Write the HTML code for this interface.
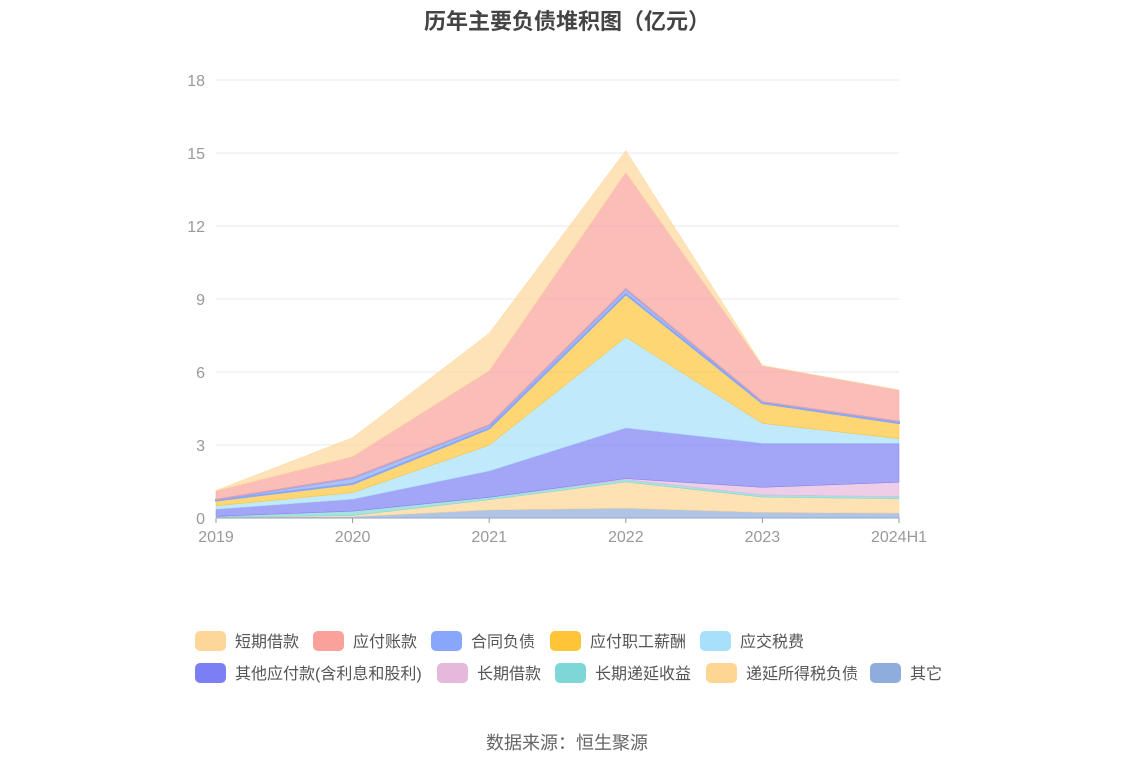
<!DOCTYPE html>
<html><head><meta charset="utf-8"><style>
body{margin:0;width:1134px;height:766px;background:#fff;font-family:"Liberation Sans","Noto Sans CJK SC",sans-serif;position:relative;overflow:hidden}
.t{position:absolute;white-space:nowrap}
.lg{position:absolute;height:22px;font-size:16px;color:#555;line-height:22px;white-space:nowrap}
.lg i{display:inline-block;width:31px;height:20px;border-radius:5px;vertical-align:middle;margin-right:9px;position:relative;top:-2px}
</style></head><body>
<div class="t" style="left:0;width:1134px;text-align:center;top:4px;font-size:22px;font-weight:bold;color:#444">历年主要负债堆积图（亿元）</div>
<svg id="c" width="1134" height="600" style="position:absolute;left:0;top:0"></svg>
<div id="legend"></div>
<div class="t" style="left:0;width:1134px;text-align:center;top:729px;font-size:18px;color:#666">数据来源：恒生聚源</div>
<script>
const categories=["2019","2020","2021","2022","2023","2024H1"];
const seriesNames=["其它","递延所得税负债","长期递延收益","长期借款","其他应付款(含利息和股利)","应交税费","应付职工薪酬","合同负债","应付账款","短期借款"];
const s_other=[0.05,0.05,0.33,0.4,0.23,0.2];
const s_deferredTax=[0,0.05,0.42,1.08,0.63,0.59];
const s_deferredIncome=[0.02,0.18,0.1,0.1,0.09,0.09];
const s_longLoan=[0,0,0,0.04,0.31,0.59];
const s_otherPayable=[0.29,0.49,1.08,2.08,1.81,1.6];
const s_tax=[0.14,0.27,1.06,3.73,0.82,0.19];
const s_salary=[0.22,0.36,0.69,1.77,0.83,0.64];
const s_contract=[0.03,0.25,0.13,0.2,0.05,0.06];
const s_payable=[0.36,0.87,2.24,4.8,1.48,1.3];
const s_shortLoan=[0.02,0.78,1.54,0.9,0.02,0];
const yTicks=[0,3,6,9,12,15,18];
const series=[s_other,s_deferredTax,s_deferredIncome,s_longLoan,s_otherPayable,s_tax,s_salary,s_contract,s_payable,s_shortLoan];
const fills=["#8eaddc","#fed694","#7fd6d6","#e6b9dc","#7c7ff4","#a7e0fb","#fdc537","#88a6fb","#f9a19a","#fdd79a"];
const x0=216,x1=899,y0=518,yTop=80;
const X=i=>x0+(x1-x0)*i/(categories.length-1);
const Y=v=>y0-(y0-yTop)*v/18;
const svg=document.getElementById('c');const NS="http://www.w3.org/2000/svg";
function mk(t,a){const e=document.createElementNS(NS,t);for(const k in a)e.setAttribute(k,a[k]);svg.appendChild(e);return e;}
yTicks.forEach(v=>{
 const l=mk('line',{x1:x0,x2:x1,y1:Y(v),y2:Y(v),stroke:v?'#e6e8f2':'#999','stroke-width':1});
 
 
 const t=mk('text',{x:205,y:Y(v)+6,'text-anchor':'end','font-size':16,fill:'#999'});t.textContent=v;
 
 
});
categories.forEach((c,i)=>{
 const t=mk('text',{x:X(i),y:542,'text-anchor':'middle','font-size':16,fill:'#999'});t.textContent=c;
 
 
 const k=mk('line',{x1:X(i),x2:X(i),y1:518,y2:523,stroke:'#999'});
 
 
});
let base=categories.map(()=>0);
series.forEach((s,si)=>{
 const top=base.map((b,i)=>b+s[i]);
 let d='M'+top.map((v,i)=>X(i)+','+Y(v)).join('L');
 for(let i=categories.length-1;i>=0;i--)d+='L'+X(i)+','+Y(base[i]);
 const p=mk('path',{d:d+'Z',fill:fills[si],'fill-opacity':0.7,stroke:fills[si],'stroke-width':si==7?2:0.5});
 
 
 base=top;
});
const lg=document.getElementById('legend');
const order=[9,8,7,6,5,4,3,2,1,0];
const pos=[[195,632],[313,632],[431,632],[550,632],[700,632],[195,664],[437,664],[555,664],[706,664],[870,664]];
order.forEach((si,k)=>{
 const d=document.createElement('div');d.className='lg';
 d.style.left=pos[k][0]+'px';d.style.top=pos[k][1]+'px';
 d.innerHTML='<i style="background:'+fills[si]+'"></i>'+seriesNames[si];
 
 
 lg.appendChild(d);
});
</script>
</body></html>
